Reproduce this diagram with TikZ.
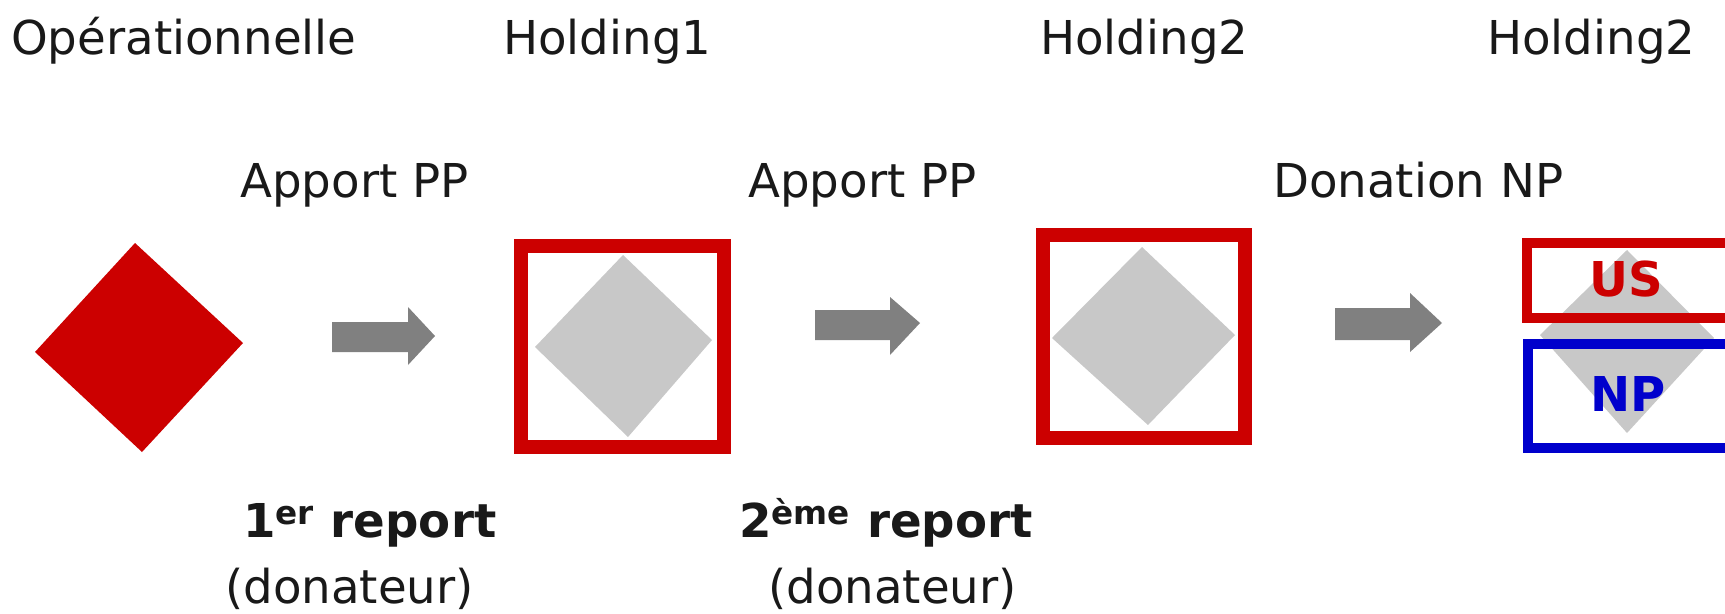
\documentclass[tikz,border=0pt]{standalone}
\usepackage{fontspec}
\setmainfont{DejaVu Sans}
\definecolor{dred}{RGB}{204,0,0}
\definecolor{dblue}{RGB}{0,0,204}
\definecolor{lgray}{RGB}{200,200,200}
\definecolor{agray}{RGB}{128,128,128}
\definecolor{txt}{RGB}{25,25,25}
\begin{document}
\begin{tikzpicture}[x=0.75pt,y=-0.75pt,
  lbl/.style={anchor=base west, inner sep=0pt, text=txt, font=\fontsize{35}{42}\selectfont},
  blbl/.style={anchor=base west, inner sep=0pt, text=txt, font=\fontsize{35}{42}\selectfont\bfseries},
  frame/.style={draw=dred, line width=10.5pt},
  thinframe/.style={line width=7.5pt},
  blockarrow/.style={fill=agray},
  gem/.style={fill=lgray}]
\useasboundingbox (0,0) rectangle (1725,614);
\clip (0,0) rectangle (1725,614);
\fill[white] (0,0) rectangle (1725,614);

% top titles
\node[lbl] (t1) at (11,55) {Opérationnelle};
\node[lbl] (t2) at (503,55) {Holding1};
\node[lbl] (t3) at (1040,55) {Holding2};
\node[lbl] (t4) at (1487,55) {Holding2};

% operation labels
\node[lbl] (o1) at (240,197) {Apport PP};
\node[lbl] (o2) at (748,197) {Apport PP};
\node[lbl] (o3) at (1273,197) {Donation NP};

% bottom labels
\node[blbl] (r1) at (243,537) {1\textsuperscript{er} report};
\node[lbl] (d1) at (225,603) {(donateur)};
\node[blbl] (r2) at (739,537) {2\textsuperscript{ème} report};
\node[lbl] (d2) at (768,603) {(donateur)};

% operational company
\fill[dred] (135,243) -- (243,343) -- (142,452) -- (35,352) -- cycle;

% arrows
\fill[blockarrow] (332,322) -- (408,322) -- (408,307) -- (435,336) -- (408,365) -- (408,352) -- (332,352) -- cycle;
\fill[blockarrow] (815,310) -- (890,310) -- (890,297) -- (920,323) -- (890,355) -- (890,340) -- (815,340) -- cycle;
\fill[blockarrow] (1335,308) -- (1410,308) -- (1410,293) -- (1442,323) -- (1410,352) -- (1410,340) -- (1335,340) -- cycle;

% Holding1
\fill[gem] (623,255) -- (712,340) -- (628,437) -- (535,347) -- cycle;
\draw[frame] (520.5,245.5) rectangle (723.5,446.5);

% Holding2
\fill[gem] (1142,247) -- (1235,335) -- (1148,425) -- (1052,338) -- cycle;
\draw[frame] (1042.5,234.5) rectangle (1245,437.5);

% Holding2 split
\fill[gem] (1627,250) -- (1714,338) -- (1627,433) -- (1540,335) -- cycle;
\draw[frame, thinframe] (1527,243) rectangle (1760,317.5);
\draw[draw=dblue, thinframe] (1528,344) rectangle (1760,448);
\node[anchor=base, inner sep=0pt, text=dred, font=\fontsize{36}{42}\selectfont\bfseries] (us) at (1626,296) {US};
\node[anchor=base, inner sep=0pt, text=dblue, font=\fontsize{36}{42}\selectfont\bfseries] (np) at (1628,411) {NP};
\end{tikzpicture}
\end{document}
